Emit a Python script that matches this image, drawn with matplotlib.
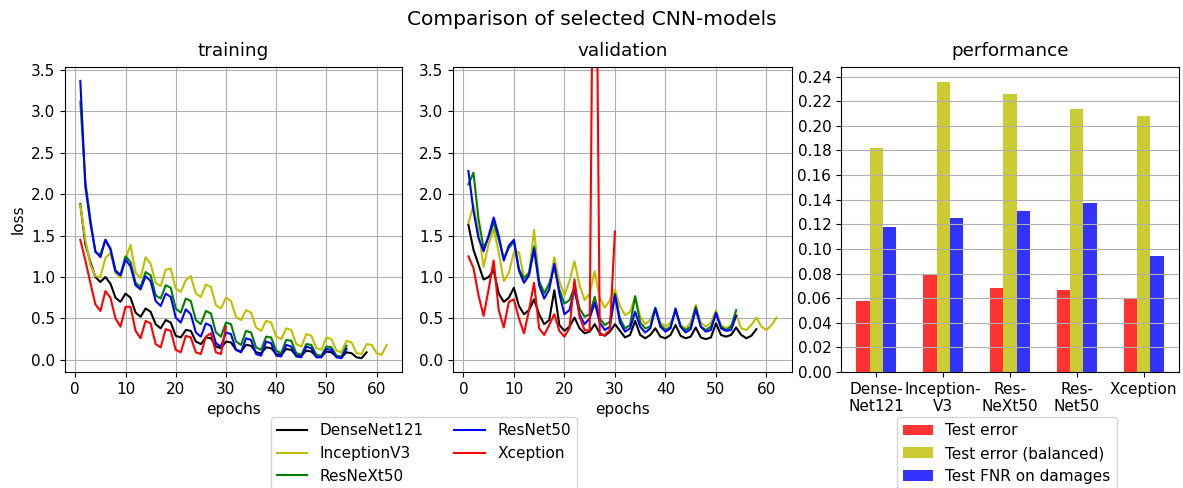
import numpy as np
import matplotlib
matplotlib.use("Agg")
import matplotlib.pyplot as plt
from matplotlib.ticker import MultipleLocator

plt.rcParams['font.family'] = ['DejaVu Sans']
plt.rcParams['font.size'] = 11

model_names = ["DenseNet121", "InceptionV3", "ResNeXt50", "ResNet50", "Xception"]
model_colors = ["k", "y", "g", "b", "r"]

# training loss per epoch
dense_tr = [1.88, 1.40, 1.18, 1.00, 0.94, 1.00, 0.92, 0.75, 0.70, 0.80,
            0.75, 0.57, 0.52, 0.62, 0.58, 0.43, 0.38, 0.48, 0.45, 0.29,
            0.27, 0.36, 0.35, 0.22, 0.19, 0.27, 0.26, 0.16, 0.14, 0.22,
            0.21, 0.12, 0.10, 0.18, 0.17, 0.09, 0.08, 0.15, 0.14, 0.07,
            0.06, 0.13, 0.12, 0.05, 0.05, 0.11, 0.10, 0.04, 0.04, 0.10,
            0.09, 0.04, 0.03, 0.09, 0.08, 0.03, 0.02, 0.09]
incep_tr = [1.87, 1.45, 1.15, 1.01, 1.00, 1.23, 1.29, 1.05, 0.99, 1.22,
            1.39, 1.05, 0.99, 1.24, 1.16, 0.93, 0.89, 1.09, 1.10, 0.86,
            0.82, 0.96, 1.01, 0.80, 0.76, 0.91, 0.88, 0.66, 0.62, 0.75,
            0.71, 0.52, 0.48, 0.60, 0.57, 0.39, 0.35, 0.47, 0.45, 0.28,
            0.25, 0.38, 0.36, 0.19, 0.16, 0.31, 0.29, 0.14, 0.12, 0.27,
            0.25, 0.11, 0.09, 0.23, 0.21, 0.08, 0.07, 0.19, 0.18, 0.08,
            0.06, 0.18]
resnext_tr = [3.12, 2.15, 1.70, 1.30, 1.27, 1.45, 1.35, 1.08, 1.03, 1.25,
              1.18, 0.93, 0.88, 1.06, 1.02, 0.78, 0.74, 0.90, 0.87, 0.62,
              0.57, 0.74, 0.71, 0.48, 0.43, 0.59, 0.56, 0.33, 0.28, 0.45,
              0.43, 0.22, 0.18, 0.35, 0.33, 0.15, 0.12, 0.28, 0.27, 0.11,
              0.08, 0.24, 0.23, 0.08, 0.06, 0.19, 0.18, 0.06, 0.05, 0.16,
              0.15, 0.05, 0.04, 0.17]
resnet_tr = [3.37, 2.10, 1.65, 1.31, 1.24, 1.45, 1.33, 1.07, 1.02, 1.21,
             1.13, 0.90, 0.85, 1.01, 0.95, 0.71, 0.65, 0.80, 0.76, 0.51,
             0.45, 0.61, 0.55, 0.33, 0.28, 0.44, 0.41, 0.20, 0.16, 0.33,
             0.31, 0.12, 0.09, 0.26, 0.24, 0.07, 0.05, 0.22, 0.20, 0.05,
             0.04, 0.18, 0.16, 0.04, 0.03, 0.16, 0.14, 0.03, 0.03, 0.13,
             0.12, 0.03, 0.02, 0.13]
xcep_tr = [1.45, 1.20, 0.93, 0.67, 0.59, 0.83, 0.75, 0.50, 0.40, 0.64,
           0.64, 0.35, 0.26, 0.47, 0.44, 0.19, 0.15, 0.37, 0.35, 0.12,
           0.09, 0.29, 0.27, 0.09, 0.07, 0.28, 0.32, 0.09, 0.07, 0.40]

# validation loss per epoch
dense_va = [1.63, 1.33, 1.15, 0.97, 1.00, 1.08, 0.80, 0.70, 0.75, 0.87,
            0.65, 0.55, 0.60, 0.73, 0.55, 0.43, 0.48, 0.84, 0.42, 0.35,
            0.40, 0.51, 0.38, 0.32, 0.34, 0.43, 0.32, 0.29, 0.34, 0.43,
            0.35, 0.27, 0.30, 0.47, 0.30, 0.26, 0.30, 0.38, 0.28, 0.26,
            0.30, 0.42, 0.29, 0.26, 0.28, 0.39, 0.27, 0.25, 0.27, 0.44,
            0.30, 0.28, 0.30, 0.39, 0.30, 0.26, 0.29, 0.37]
incep_va = [1.65, 1.87, 1.55, 1.12, 1.40, 1.58, 1.30, 0.95, 1.05, 1.30,
            1.30, 1.00, 1.05, 1.57, 0.95, 0.82, 0.90, 1.24, 0.95, 0.78,
            0.95, 1.19, 0.90, 0.72, 0.80, 1.07, 0.75, 0.63, 0.72, 0.85,
            0.65, 0.54, 0.58, 0.76, 0.52, 0.43, 0.48, 0.62, 0.45, 0.40,
            0.45, 0.58, 0.42, 0.38, 0.45, 0.66, 0.45, 0.40, 0.45, 0.60,
            0.42, 0.38, 0.42, 0.55, 0.38, 0.36, 0.42, 0.51, 0.40, 0.36,
            0.42, 0.51]
resnext_va = [2.12, 2.26, 1.70, 1.35, 1.48, 1.66, 1.45, 1.22, 1.35, 1.43,
              1.10, 0.98, 1.05, 1.37, 0.95, 0.80, 0.92, 1.12, 0.85, 0.68,
              0.72, 0.88, 0.62, 0.52, 0.55, 0.76, 0.50, 0.42, 0.46, 0.80,
              0.50, 0.38, 0.42, 0.77, 0.45, 0.38, 0.40, 0.63, 0.42, 0.36,
              0.40, 0.60, 0.40, 0.36, 0.40, 0.64, 0.40, 0.36, 0.40, 0.55,
              0.40, 0.36, 0.40, 0.60]
resnet_va = [2.28, 1.80, 1.47, 1.31, 1.50, 1.72, 1.50, 1.20, 1.38, 1.45,
             1.08, 0.93, 1.02, 1.34, 0.90, 0.74, 0.85, 1.16, 0.80, 0.55,
             0.60, 0.85, 0.55, 0.43, 0.50, 0.69, 0.45, 0.36, 0.40, 0.78,
             0.45, 0.34, 0.38, 0.58, 0.40, 0.33, 0.38, 0.62, 0.40, 0.34,
             0.38, 0.62, 0.40, 0.33, 0.37, 0.61, 0.40, 0.34, 0.36, 0.57,
             0.38, 0.35, 0.36, 0.53]
xcep_va = [1.25, 1.11, 0.78, 0.53, 0.85, 1.20, 0.60, 0.39, 0.70, 0.73,
           0.50, 0.32, 0.60, 0.93, 0.38, 0.30, 0.42, 0.55, 0.35, 0.28,
           0.38, 0.97, 0.52, 0.36, 0.35, 7.50, 0.30, 0.30, 0.36, 1.55]

train_series = [dense_tr, incep_tr, resnext_tr, resnet_tr, xcep_tr]
val_series = [dense_va, incep_va, resnext_va, resnet_va, xcep_va]

# performance
bar_labels = ["Dense-\nNet121", "Inception-\nV3", "Res-\nNeXt50", "Res-\nNet50", "Xception"]
test_error = [0.058, 0.079, 0.068, 0.067, 0.060]
test_error_bal = [0.182, 0.236, 0.226, 0.214, 0.208]
test_fnr = [0.118, 0.125, 0.131, 0.1375, 0.094]
bar_names = ["Test error", "Test error (balanced)", "Test FNR on damages"]
bar_colors = ["r", "y", "b"]

W, H = 1183, 488
fig = plt.figure(figsize=(W / 100, H / 100), dpi=100)

def rect(l, r, t, b):
    return [l / W, 1 - b / H, (r - l) / W, (b - t) / H]

ax1 = fig.add_axes(rect(65, 402, 67, 372))
ax2 = fig.add_axes(rect(453, 792, 67, 372))
ax3 = fig.add_axes(rect(841, 1179, 67, 372))

lines = []
for name, col, ys in zip(model_names, model_colors, train_series):
    ep = np.arange(1, len(ys) + 1)
    l, = ax1.plot(ep, ys, color=col, label=name)
    lines.append(l)
for name, col, ys in zip(model_names, model_colors, val_series):
    ep = np.arange(1, len(ys) + 1)
    ax2.plot(ep, ys, color=col, label=name)

ylim = ax1.get_ylim()
ax2.set_ylim(ylim)
ax2.set_xlim(ax1.get_xlim())

for ax, t in [(ax1, "training"), (ax2, "validation")]:
    ax.set_title(t, pad=8)
    ax.set_xlabel("epochs")
    ax.grid(True)
    ax.set_xticks(np.arange(0, 61, 10))
ax1.set_ylabel("loss")

x = np.arange(len(bar_labels))
bw = 0.2
bars = []
for i, (vals, name, col) in enumerate(zip([test_error, test_error_bal, test_fnr], bar_names, bar_colors)):
    b = ax3.bar(x + (i - 1) * bw, vals, bw, color=col, alpha=0.8, label=name)
    bars.append(b)
ax3.set_xticks(x)
ax3.set_xticklabels(bar_labels)
ax3.yaxis.set_major_locator(MultipleLocator(0.02))
ax3.yaxis.grid(True)
ax3.set_title("performance", pad=8)

fig.suptitle("Comparison of selected CNN-models", fontsize=14.5, y=0.98)

fig.legend(handles=lines, loc="upper center", ncol=2, bbox_to_anchor=(0.3582, 0.1449),
           bbox_transform=fig.transFigure, borderaxespad=0)
fig.legend(handles=bars, loc="upper center", ncol=1, bbox_to_anchor=(0.851, 0.1449),
           bbox_transform=fig.transFigure, borderaxespad=0)

fig.savefig("out.png", dpi=100)
